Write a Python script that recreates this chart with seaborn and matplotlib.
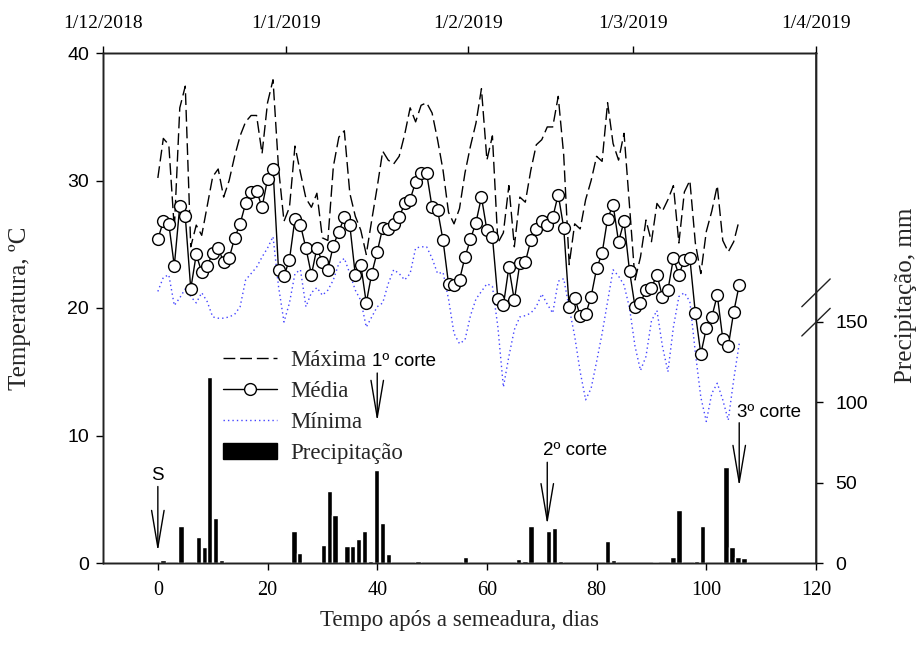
import matplotlib
matplotlib.use("Agg")
import matplotlib.pyplot as plt
import matplotlib.transforms as mtransforms
from matplotlib.lines import Line2D
from matplotlib.patches import Patch
import pandas as pd
import seaborn as sns

# Daily air temperature (ºC) after sowing
days = list(range(107))
t_max = [30.2, 33.3, 32.8, 26.2, 35.7, 37.4, 24.8, 26.5, 25.7, 28.0,
         30.3, 30.9, 28.7, 30.0, 31.9, 33.5, 34.6, 35.1, 35.1, 32.1,
         36.1, 37.9, 31.0, 26.8, 27.9, 32.7, 30.6, 28.6, 27.9, 29.0,
         25.5, 25.3, 31.1, 33.4, 33.9, 29.0, 27.2, 26.1, 24.2, 26.9,
         29.5, 32.3, 31.6, 31.3, 31.9, 33.6, 35.7, 34.6, 35.9, 36.1,
         35.3, 33.2, 30.8, 27.5, 26.6, 27.8, 30.6, 32.7, 34.5, 37.2,
         31.6, 33.5, 25.1, 25.9, 29.6, 24.8, 28.7, 28.3, 30.8, 32.8,
         33.2, 34.2, 34.2, 36.6, 32.0, 23.4, 26.6, 26.2, 28.5, 30.0,
         31.9, 31.5, 36.1, 32.9, 31.6, 33.7, 28.0, 22.2, 24.0, 26.9,
         25.2, 28.2, 27.6, 28.5, 29.6, 25.1, 29.1, 30.0, 25.1, 22.7,
         26.0, 27.6, 29.6, 25.3, 24.4, 25.2, 26.9]
t_med = [25.4, 26.8, 26.6, 23.3, 28.0, 27.2, 21.5, 24.2, 22.8, 23.3,
         24.3, 24.7, 23.6, 23.9, 25.5, 26.6, 28.2, 29.1, 29.2, 27.9,
         30.1, 30.9, 23.0, 22.5, 23.8, 27.0, 26.5, 24.7, 22.6, 24.7,
         23.6, 23.0, 24.9, 26.0, 27.1, 26.5, 22.6, 23.4, 20.4, 22.7,
         24.4, 26.3, 26.2, 26.6, 27.1, 28.2, 28.5, 29.9, 30.6, 30.6,
         27.9, 27.7, 25.3, 21.9, 21.8, 22.2, 24.0, 25.4, 26.7, 28.7,
         26.1, 25.6, 20.7, 20.2, 23.2, 20.6, 23.5, 23.6, 25.3, 26.2,
         26.8, 26.5, 27.1, 28.9, 26.3, 20.1, 20.8, 19.4, 19.5, 20.9,
         23.1, 24.3, 27.0, 28.1, 25.2, 26.8, 22.9, 20.1, 20.4, 21.4,
         21.6, 22.6, 20.9, 21.4, 23.9, 22.6, 23.8, 23.9, 19.6, 16.4,
         18.4, 19.3, 21.0, 17.6, 17.0, 19.7, 21.8]
t_min = [21.3, 22.4, 22.6, 20.2, 20.8, 21.5, 20.9, 20.4, 21.2, 20.5,
         19.3, 19.2, 19.2, 19.3, 19.5, 20.1, 22.2, 22.7, 23.2, 24.0,
         24.7, 25.6, 21.7, 18.9, 20.4, 22.7, 23.0, 20.1, 21.2, 21.6,
         21.0, 21.4, 22.2, 23.5, 23.9, 22.7, 21.4, 20.6, 18.5, 19.3,
         20.1, 20.4, 21.9, 23.0, 22.7, 22.2, 22.7, 24.7, 24.8, 24.8,
         23.9, 22.7, 22.8, 20.7, 18.0, 17.2, 17.5, 19.4, 20.7, 21.3,
         21.9, 21.7, 18.5, 13.8, 16.2, 18.3, 19.3, 19.4, 19.6, 20.1,
         21.1, 20.3, 19.6, 22.1, 22.3, 20.0, 17.8, 15.0, 12.8, 13.7,
         15.8, 18.0, 20.5, 23.0, 22.5, 21.8, 20.0, 17.0, 15.1, 16.2,
         19.0, 19.8, 17.0, 15.0, 18.5, 20.9, 21.2, 20.5, 16.5, 13.0,
         11.1, 13.3, 14.1, 12.8, 11.2, 14.4, 17.2]

# Daily rainfall (mm)
rain_day = [0.9, 4.2, 7.4, 8.5, 9.4, 10.5, 11.6, 24.8, 25.8, 30.2,
            31.3, 32.3, 34.5, 35.5, 36.6, 37.7, 38.8, 39.9, 41.0, 42.1,
            47.4, 56.1, 65.8, 66.9, 68.0, 71.2, 72.3, 73.4, 82.0, 83.1,
            90.7, 93.9, 95.0, 98.2, 99.3, 103.6, 104.7, 105.8, 106.9]
rain_mm = [2.0, 23.0, 16.0, 10.0, 116.0, 28.0, 2.0, 20.0, 6.5, 11.0,
           45.0, 30.0, 10.4, 10.4, 15.0, 20.0, 1.5, 58.0, 25.0, 5.4,
           1.2, 4.0, 2.8, 1.0, 23.0, 20.0, 22.0, 1.0, 14.0, 2.0,
           0.8, 3.5, 33.0, 1.0, 23.0, 60.0, 10.0, 4.0, 3.0]

# Calendar axis: days since 1 December 2018
date_ticks = [0, 31, 62, 90, 121]
date_labels = ["1/12/2018", "1/1/2019", "1/2/2019", "1/3/2019", "1/4/2019"]

# Management events: (label, day, arrow tip ºC, arrow tail ºC, text x, text y)
events = [
    ("S", 0, 0.9, 6.0, 0, 6.9),
    ("1º corte", 40, 11.1, 14.9, 44.8, 15.8),
    ("2º corte", 71, 3.0, 7.9, 76.0, 8.8),
    ("3º corte", 106, 6.0, 11.0, 111.4, 11.8),
]

sns.set_theme(style="white")
SERIF = ["Liberation Serif", "DejaVu Serif"]
SANS = ["Liberation Sans", "DejaVu Sans"]
plt.rcParams["font.family"] = SERIF
plt.rcParams["axes.linewidth"] = 1.0

W, H = 921, 657
fig = plt.figure(figsize=(W / 100, H / 100), dpi=100)
left, right, top, bottom = 103, 816, 53, 563
ax = fig.add_axes([left / W, 1 - bottom / H, (right - left) / W, (bottom - top) / H])

df = pd.DataFrame({"dia": days, "max": t_max, "med": t_med, "min": t_min})

sns.lineplot(data=df, x="dia", y="max", ax=ax, color="black", lw=1.0,
             linestyle=(0, (8.5, 3.5)), zorder=3)
sns.lineplot(data=df, x="dia", y="min", ax=ax, color="#4444ff", lw=1.0,
             linestyle=(0, (1, 2.2)), zorder=2)
sns.lineplot(data=df, x="dia", y="med", ax=ax, color="black", lw=1.0,
             marker="o", markersize=8.5, markerfacecolor="white",
             markeredgecolor="black", markeredgewidth=1.0, zorder=4)

ax.set_xlim(-10, 120)
ax.set_ylim(0, 40)
ax.set_xticks([0, 20, 40, 60, 80, 100, 120])
ax.set_yticks([0, 10, 20, 30, 40])
ax.set_xlabel("Tempo após a semeadura, dias", fontsize=16.5, family=SERIF)
ax.set_ylabel("Temperatura, ºC", fontsize=18, family=SERIF)
ax.xaxis.set_label_coords(0.5, -(610 - 563) / 510)
ax.yaxis.set_label_coords((31 - 103) / 713, 0.5)
ax.tick_params(axis="x", direction="out", length=5, width=1, pad=8,
               labelsize=14.5, colors="black")
ax.tick_params(axis="y", direction="out", length=5, width=1, pad=5,
               labelsize=14, colors="black")
for lab in ax.get_yticklabels():
    lab.set_family(SANS)
for lab in ax.get_xticklabels():
    lab.set_family(SERIF)

# Rainfall on the right axis
ax2 = ax.twinx()
ax2.bar(rain_day, rain_mm, width=1.0, color="black", zorder=2)
ax2.set_ylim(0, (bottom - top) / 1.6067)
ax2.set_yticks([0, 50, 100, 150])
ax2.set_ylabel("Precipitação, mm", fontsize=18, family=SERIF)
ax2.yaxis.set_label_coords((895 - 103) / 713, (563 - 295) / 510)
ax2.tick_params(axis="y", direction="out", length=5, width=1, pad=9,
                labelsize=14, colors="black")
for lab in ax2.get_yticklabels():
    lab.set_family(SANS)

# Calendar dates along the top
ax3 = ax.twiny()
ax3.set_xlim(0, 121)
ax3.set_xticks(date_ticks)
ax3.set_xticklabels(date_labels, fontsize=14, family=SERIF)
ax3.tick_params(axis="x", direction="out", length=5, width=1, pad=10,
                colors="black")

for a in (ax, ax2, ax3):
    a.grid(False)
    for s in a.spines.values():
        s.set_color("#222222")
        s.set_linewidth(1.0)
ax2.spines["right"].set_color("#444444")
ax2.spines["right"].set_linewidth(1.4)

# Break marks on the rainfall axis
brk = mtransforms.blended_transform_factory(ax2.transAxes, ax2.transData)
for y0, y1 in ((141.3, 158.5), (159.5, 176.8)):
    ax2.plot([1 - 0.0199, 1 + 0.0199], [y0, y1], transform=brk,
             color="#222222", lw=1.0, clip_on=False, zorder=5)

# Sowing and cutting events
for label, d, tip, tail, tx, ty in events:
    ax.annotate("", xy=(d, tip), xytext=(d, tail),
                arrowprops=dict(arrowstyle="->,head_length=2.66,head_width=0.45",
                                mutation_scale=10, lw=1.0, color="black",
                                shrinkA=0, shrinkB=0), zorder=6)
    ax.text(tx, ty, label, ha="center", va="center", fontsize=13.5,
            family=SANS, color="black", zorder=6)

handles = [
    Line2D([], [], color="black", lw=1.0, linestyle=(0, (8.5, 3.5))),
    Line2D([], [], color="black", lw=1.0, marker="o", markersize=8.5,
           markerfacecolor="white", markeredgecolor="black"),
    Line2D([], [], color="#4444ff", lw=1.0, linestyle=(0, (1, 2.2))),
    Patch(facecolor="black", edgecolor="black"),
]
leg = ax.legend(handles, ["Máxima", "Média", "Mínima", "Precipitação"],
                loc="upper left", bbox_to_anchor=(222.7 / W, 1 - 350 / H),
                bbox_transform=fig.transFigure, frameon=False, borderpad=0,
                borderaxespad=0, handlelength=2.36, handletextpad=0.6,
                labelspacing=0.44, prop={"family": SERIF, "size": 16.5})
leg.set_zorder(7)

fig.savefig("out.png", dpi=100)
